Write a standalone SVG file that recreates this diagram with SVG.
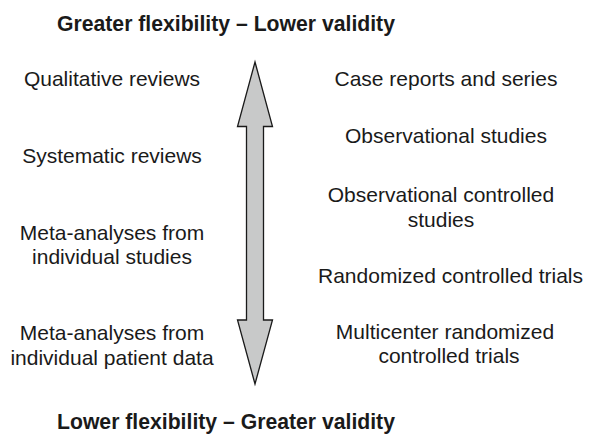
<svg xmlns="http://www.w3.org/2000/svg" width="589" height="436" viewBox="0 0 589 436">
  <style>
    .title { font-family: "Liberation Sans", Arial, sans-serif; font-size: 21.2px; font-weight: bold; fill: #1a1a1a; }
    .label { font-family: "Liberation Sans", Arial, sans-serif; font-size: 21px; fill: #1a1a1a; text-anchor: middle; }
    .arrow { fill: #c8c9c9; stroke: #1a1a1a; stroke-width: 1.3; stroke-linejoin: miter; }
  </style>
  <rect width="589" height="436" fill="#ffffff"/>

  <text class="title" x="57" y="31">Greater flexibility – Lower validity</text>
  <text class="title" x="57" y="429">Lower flexibility – Greater validity</text>

  <!-- double-headed vertical arrow -->
  <g id="arrow">
    <path class="arrow" d="M255,62 L272.5,126.5 L263.5,126.5 L263.5,320 L272.5,320 L255,384 L237.5,320 L246.5,320 L246.5,126.5 L237.5,126.5 Z"/>
  </g>

  <!-- left column: review types -->
  <g id="left-qualitative"><text class="label" x="112" y="86">Qualitative reviews</text></g>
  <g id="left-systematic"><text class="label" x="112" y="163">Systematic reviews</text></g>
  <g id="left-meta-studies"><text class="label" x="112" y="240">Meta-analyses from</text><text class="label" x="112" y="264">individual studies</text></g>
  <g id="left-meta-patient"><text class="label" x="112" y="340">Meta-analyses from</text><text class="label" x="112" y="365">individual patient data</text></g>

  <!-- right column: study designs -->
  <g id="right-case"><text class="label" x="446" y="86">Case reports and series</text></g>
  <g id="right-observational"><text class="label" x="446" y="143">Observational studies</text></g>
  <g id="right-obs-controlled"><text class="label" x="441" y="202">Observational controlled</text><text class="label" x="441" y="227">studies</text></g>
  <g id="right-rct"><text class="label" x="450.5" y="283">Randomized controlled trials</text></g>
  <g id="right-multicenter"><text class="label" x="445" y="339">Multicenter randomized</text><text class="label" x="449" y="363">controlled trials</text></g>
</svg>
